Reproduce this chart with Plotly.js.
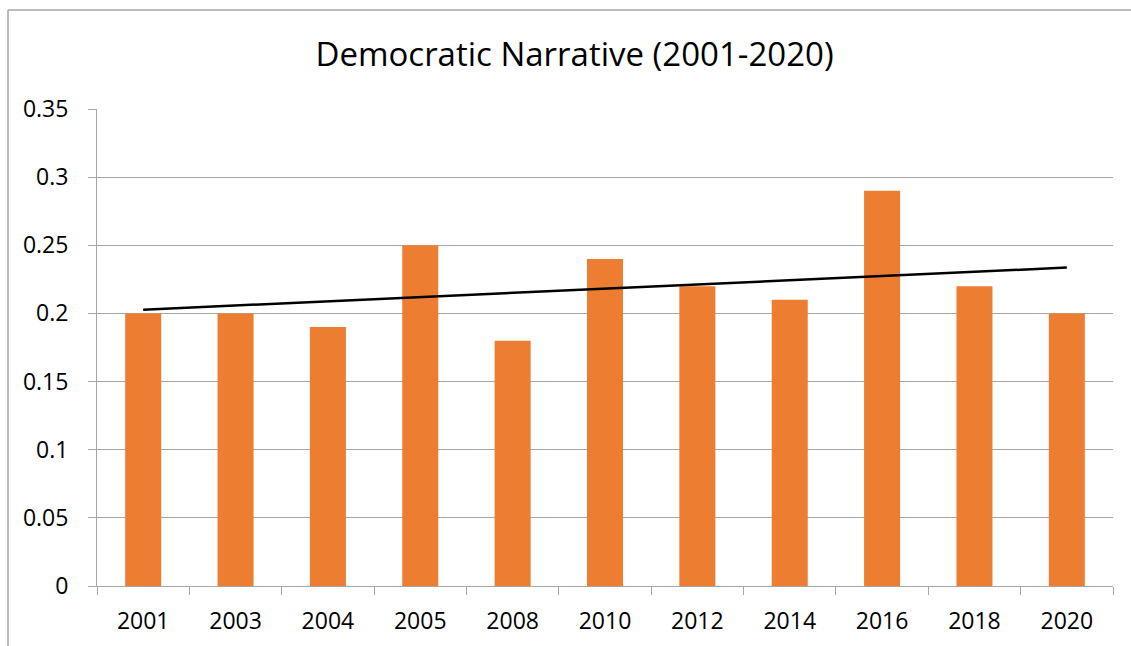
<!DOCTYPE html>
<html><head><meta charset="utf-8">
<script src="https://cdn.plot.ly/plotly-3.0.1.min.js"></script>
<style>html,body{margin:0;padding:0;background:#fff}#chart{width:1131px;height:646px}</style>
</head><body><div id="chart"></div>
<script>
const years = ['2001','2003','2004','2005','2008','2010','2012','2014','2016','2018','2020'];
const values = [0.20,0.20,0.19,0.25,0.18,0.24,0.22,0.21,0.29,0.22,0.20];
const chartTitle = 'Democratic Narrative (2001-2020)';

// linear trendline (least squares on category index)
const n = values.length;
const xs = values.map((_, i) => i + 1);
const mx = xs.reduce((a, b) => a + b, 0) / n;
const my = values.reduce((a, b) => a + b, 0) / n;
let sxy = 0, sxx = 0;
xs.forEach((x, i) => { sxy += (x - mx) * (values[i] - my); sxx += (x - mx) * (x - mx); });
const slope = sxy / sxx, icpt = my - slope * mx;
const trend = xs.map(x => icpt + slope * x);

const font = 'Open Sans, Liberation Sans, sans-serif';
const data = [
  {type:'bar', x: years, y: values, marker:{color:'#ED7D31'}, hoverinfo:'x+y'},
  {type:'scatter', mode:'lines', x: years, y: trend, line:{color:'#000', width:2.5}, hoverinfo:'skip'}
];
const layout = {
  width:1131, height:646,
  margin:{l:97, r:18, t:109, b:60},
  paper_bgcolor:'#fff', plot_bgcolor:'#fff',
  showlegend:false,
  bargap:0.61,
  font:{family:font, color:'#000', size:24},
  title:{text: chartTitle, font:{family:font, size:33, color:'#000'}, x:0.508, xref:'container', y:0.915, yref:'container', yanchor:'middle'},
  xaxis:{type:'category', tickson:'boundaries', ticks:'outside', ticklen:8, tickcolor:'#a6a6a6',
         showline:true, linecolor:'#a6a6a6', linewidth:1, showgrid:false, tickfont:{size:23},
         ticklabelstandoff:14, fixedrange:true},
  yaxis:{range:[0,0.35], dtick:0.05, ticks:'outside', ticklen:8, tickcolor:'#a6a6a6',
         showline:true, linecolor:'#a6a6a6', showgrid:true, gridcolor:'#a6a6a6', gridwidth:1,
         zeroline:false, tickfont:{size:23}, ticklabelstandoff:15, fixedrange:true},
  shapes:[
    {type:'line', xref:'paper', yref:'paper', x0:(8-97)/1016, x1:(8-97)/1016, y0:(586-10)/477, y1:(586-646)/477, line:{color:'#a6a6a6', width:1.5}},
    {type:'line', xref:'paper', yref:'paper', x0:(8-97)/1016, x1:(1131-97)/1016, y0:(586-10)/477, y1:(586-10)/477, line:{color:'#a6a6a6', width:1.5}}
  ]
};
Plotly.newPlot('chart', data, layout, {displayModeBar:false, staticPlot:true});
</script></body></html>
